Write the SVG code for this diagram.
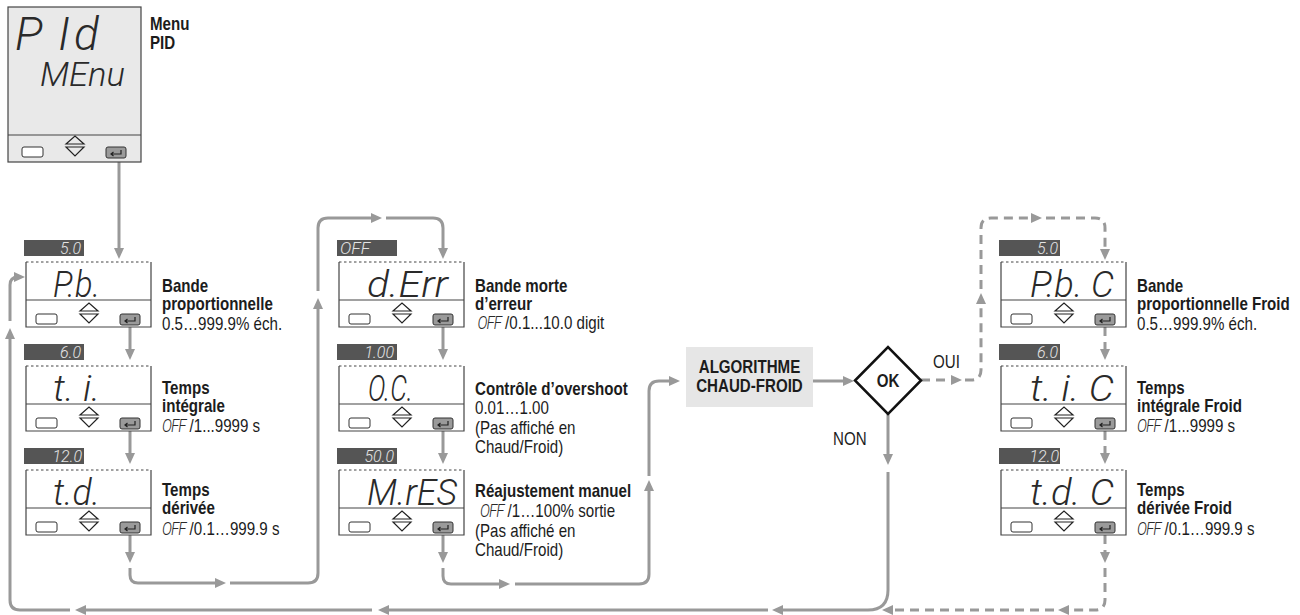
<svg xmlns="http://www.w3.org/2000/svg" width="1300" height="615" viewBox="0 0 1300 615">
<style>
.lb{font-family:"Liberation Sans",Arial,sans-serif;font-weight:700;font-size:18px;fill:#1c1c1c}
.lr{font-family:"Liberation Sans",Arial,sans-serif;font-weight:400;font-size:18px;fill:#1c1c1c}
.seg{font-family:Roboto,"DejaVu Sans",sans-serif;font-weight:300;font-style:italic;fill:#2a2a2a}
.sv{font-family:Roboto,"DejaVu Sans",sans-serif;font-weight:300;font-style:italic;fill:#2a2a2a;font-size:18px;letter-spacing:-1.2px}
.st{font-family:Roboto,"DejaVu Sans",sans-serif;font-weight:300;font-style:italic;fill:#e4e4e4;font-size:16px}
.tag{fill:#555}
.c{fill:none;stroke:#999;stroke-width:3;marker-end:url(#ah)}
.d{fill:none;stroke:#999;stroke-width:3;stroke-dasharray:9 6;marker-end:url(#ah)}
.ln{stroke:#444;stroke-width:1.2;fill:none}
.key{fill:#fff;stroke:#333;stroke-width:1}
.ent{fill:#9a9a9a;stroke:#333;stroke-width:1}
.ico{fill:none;stroke:#222;stroke-width:1.2}
</style>
<defs>
<marker id="ah" viewBox="0 0 11 10" markerWidth="11" markerHeight="10" refX="4" refY="5" orient="auto" markerUnits="userSpaceOnUse"><path d="M0,0 L11,5 L0,10 z" fill="#999"/></marker>
<g id="keys">
<rect class="key" x="0" y="0" width="21" height="10" rx="2"/>
<path class="ico" d="M44,-3 L53,-11 L62,-3 Z M44,0 H62 L53,9 Z"/>
<rect class="ent" x="84" y="0" width="20" height="11" rx="2"/>
<path class="ico" d="M99,3 V7 H89 M91.5,5 L89,7 L91.5,9"/>
</g>
<g id="panel">
<rect x="0" y="0" width="125" height="65" fill="#fff"/>
<path class="ln" d="M0,0 V65 H125 V0 M0,38 H125"/>
<path d="M0,0 H125" stroke="#444" stroke-width="1" stroke-dasharray="2.5 2.5"/>
<use href="#keys" x="10" y="52"/>
</g>
</defs>

<g id="connectors">
<path class="c" d="M119,162 V252"/>
<path class="c" d="M130,327 V353"/>
<path class="c" d="M130,431 V457"/>
<path class="c" d="M130,535 V556"/>
<path class="c" d="M130,568 V575 Q130,583 138,583 H219"/>
<path class="c" d="M230,583 H308 Q318,583 318,573 V305"/>
<path class="c" d="M318,291 V228 Q318,218 328,218 H375"/>
<path class="c" d="M386,218 H433 Q443,218 443,228 V252"/>
<path class="c" d="M443,327 V353"/>
<path class="c" d="M443,431 V457"/>
<path class="c" d="M443,535 V556"/>
<path class="c" d="M443,568 V576 Q443,584 451,584 H503"/>
<path class="c" d="M515,584 H639 Q649,584 649,574 V487"/>
<path class="c" d="M649,476 V391 Q649,381 659,381 H673"/>
<path class="c" d="M813,381 H847"/>
<path class="c" d="M888,414 V458"/>
<path class="c" d="M888,472 V590 Q888,610 868,610 H779"/>
<path class="c" d="M768,610 H385"/>
<path class="c" d="M372,610 H82"/>
<path class="c" d="M70,610 H20 Q10,610 10,600 V335"/>
<path class="c" d="M10,321 V285 Q10,277 18,277 H18"/>
<path class="d" d="M921,380 H955"/>
<path class="d" d="M965,380 H971 Q981,380 981,370 V300"/>
<path class="d" d="M981,289 V228 Q981,218 991,218 H1035"/>
<path class="d" d="M1046,218 H1095 Q1105,218 1105,228 V253"/>
<path class="d" d="M1105,327 V353"/>
<path class="d" d="M1105,431 V457"/>
<path class="d" d="M1105,535 V556"/>
<path class="d" d="M1105,568 V600 Q1105,610 1095,610 H1065"/>
<path class="d" d="M1054,610 H889"/>
</g>

<g id="menu">
<rect x="8" y="7" width="133" height="155" fill="#e9e9e9" stroke="#444" stroke-width="1.2"/>
<path class="ln" d="M8,135 H141"/>
<use href="#keys" x="22" y="147"/>
<text class="seg" x="15 58 74" y="50" font-size="46">PId</text>
<text class="seg" x="40" y="86" font-size="34" textLength="85" lengthAdjust="spacingAndGlyphs">MEnu</text>
<g transform="translate(150,0) scale(0.84,1)">
<text class="lb" x="0" y="30" font-size="15">Menu</text>
<text class="lb" x="0" y="49" font-size="15">PID</text>
</g>
</g>

<g id="pb">
<rect class="tag" x="24" y="240" width="60" height="16"/>
<text class="st" x="81" y="254" text-anchor="end">5.0</text>
<use href="#panel" x="26" y="262"/>
<text class="seg" x="53" y="297" font-size="36" textLength="47" lengthAdjust="spacingAndGlyphs">P.b.</text>
<g transform="translate(162,0) scale(0.84,1)">
<text class="lb" x="0" y="292">Bande</text>
<text class="lb" x="0" y="310">proportionnelle</text>
<text class="lr" x="0" y="330">0.5…999.9% éch.</text>
</g>
</g>

<g id="ti">
<rect class="tag" x="24" y="344" width="60" height="16"/>
<text class="st" x="81" y="358" text-anchor="end">6.0</text>
<use href="#panel" x="26" y="366"/>
<text class="seg" x="53" y="401" font-size="36" textLength="47" lengthAdjust="spacingAndGlyphs">t. i.</text>
<g transform="translate(162,0) scale(0.84,1)">
<text class="lb" x="0" y="394">Temps</text>
<text class="lb" x="0" y="412">intégrale</text>
<text class="lr" x="0" y="432"><tspan class="sv">OFF</tspan> /1...9999 s</text>
</g>
</g>

<g id="td">
<rect class="tag" x="24" y="448" width="60" height="16"/>
<text class="st" x="82" y="462" text-anchor="end">12.0</text>
<use href="#panel" x="26" y="470"/>
<text class="seg" x="53" y="505" font-size="36" textLength="47" lengthAdjust="spacingAndGlyphs">t.d.</text>
<g transform="translate(162,0) scale(0.84,1)">
<text class="lb" x="0" y="496">Temps</text>
<text class="lb" x="0" y="514">dérivée</text>
<text class="lr" x="0" y="535"><tspan class="sv">OFF</tspan> /0.1…999.9 s</text>
</g>
</g>

<g id="derr">
<rect class="tag" x="337" y="240" width="60" height="16"/>
<text class="st" x="340" y="254" textLength="30" lengthAdjust="spacingAndGlyphs">OFF</text>
<use href="#panel" x="339" y="262"/>
<text class="seg" x="367" y="297" font-size="36" textLength="81" lengthAdjust="spacingAndGlyphs">d.Err</text>
<g transform="translate(475,0) scale(0.84,1)">
<text class="lb" x="0" y="292">Bande morte</text>
<text class="lb" x="0" y="310">d’erreur</text>
<text class="lr" x="3" y="329"><tspan class="sv">OFF</tspan> /0.1...10.0 digit</text>
</g>
</g>

<g id="oc">
<rect class="tag" x="337" y="344" width="60" height="16"/>
<text class="st" x="394" y="358" text-anchor="end">1.00</text>
<use href="#panel" x="339" y="366"/>
<text class="seg" x="368" y="401" font-size="36" textLength="45" lengthAdjust="spacingAndGlyphs">O.C.</text>
<g transform="translate(475,0) scale(0.84,1)">
<text class="lb" x="0" y="395">Contrôle d’overshoot</text>
<text class="lr" x="0" y="414">0.01…1.00</text>
<text class="lr" x="0" y="434">(Pas affiché en</text>
<text class="lr" x="0" y="453">Chaud/Froid)</text>
</g>
</g>

<g id="mres">
<rect class="tag" x="337" y="448" width="60" height="16"/>
<text class="st" x="394" y="462" text-anchor="end">50.0</text>
<use href="#panel" x="339" y="470"/>
<text class="seg" x="367" y="505" font-size="36" textLength="90" lengthAdjust="spacingAndGlyphs">M.rES</text>
<g transform="translate(475,0) scale(0.84,1)">
<text class="lb" x="0" y="497">Réajustement manuel</text>
<text class="lr" x="6" y="517"><tspan class="sv">OFF</tspan> /1…100% sortie</text>
<text class="lr" x="0" y="537">(Pas affiché en</text>
<text class="lr" x="0" y="556">Chaud/Froid)</text>
</g>
</g>

<g id="algo">
<rect x="686" y="347" width="127" height="60" fill="#e6e6e6"/>
<g transform="translate(749.5,0) scale(0.84,1)">
<text class="lb" x="0" y="373" text-anchor="middle" font-size="17.5">ALGORITHME</text>
<text class="lb" x="0" y="392" text-anchor="middle" font-size="17.5">CHAUD-FROID</text>
</g>
</g>

<g id="ok">
<path d="M855,380.5 L888,347 L921,380.5 L888,414 Z" fill="#fff" stroke="#111" stroke-width="2.5"/>
<g transform="translate(888,0) scale(0.84,1)">
<text class="lb" x="0" y="387" text-anchor="middle" font-size="18">OK</text>
</g>
<g transform="translate(933,0) scale(0.84,1)">
<text class="lr" x="0" y="368">OUI</text>
</g>
<g transform="translate(833,0) scale(0.84,1)">
<text class="lr" x="0" y="445">NON</text>
</g>
</g>

<g id="pbc">
<rect class="tag" x="999" y="240" width="61" height="16"/>
<text class="st" x="1058" y="254" text-anchor="end">5.0</text>
<use href="#panel" x="1001" y="262"/>
<text class="seg" x="1030" y="297" font-size="36" textLength="84" lengthAdjust="spacingAndGlyphs">P.b.  C</text>
<g transform="translate(1137,0) scale(0.84,1)">
<text class="lb" x="0" y="292">Bande</text>
<text class="lb" x="0" y="310">proportionnelle Froid</text>
<text class="lr" x="0" y="330">0.5…999.9% éch.</text>
</g>
</g>

<g id="tic">
<rect class="tag" x="999" y="344" width="61" height="16"/>
<text class="st" x="1058" y="358" text-anchor="end">6.0</text>
<use href="#panel" x="1001" y="366"/>
<text class="seg" x="1030" y="401" font-size="36" textLength="84" lengthAdjust="spacingAndGlyphs">t. i.  C</text>
<g transform="translate(1137,0) scale(0.84,1)">
<text class="lb" x="0" y="394">Temps</text>
<text class="lb" x="0" y="412">intégrale Froid</text>
<text class="lr" x="0" y="432"><tspan class="sv">OFF</tspan> /1...9999 s</text>
</g>
</g>

<g id="tdc">
<rect class="tag" x="999" y="448" width="61" height="16"/>
<text class="st" x="1059" y="462" text-anchor="end">12.0</text>
<use href="#panel" x="1001" y="470"/>
<text class="seg" x="1030" y="505" font-size="36" textLength="84" lengthAdjust="spacingAndGlyphs">t.d.  C</text>
<g transform="translate(1137,0) scale(0.84,1)">
<text class="lb" x="0" y="496">Temps</text>
<text class="lb" x="0" y="514">dérivée Froid</text>
<text class="lr" x="0" y="535"><tspan class="sv">OFF</tspan> /0.1…999.9 s</text>
</g>
</g>
</svg>
